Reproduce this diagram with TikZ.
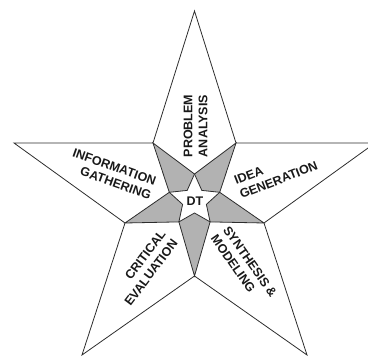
\documentclass[tikz,border=0pt]{standalone}
\usepackage{fontspec}
\newfontfamily\labfont{Liberation Sans}[BoldFont={Liberation Sans Bold}]
\definecolor{kitegray}{RGB}{178,178,178}
\definecolor{linegray}{RGB}{45,45,45}
\definecolor{textgray}{RGB}{25,25,25}
\begin{document}
\begin{tikzpicture}[x=1pt,y=-1pt,
  outline/.style={draw=linegray,line width=0.8pt,line join=miter},
  kite/.style={fill=kitegray,draw=linegray,line width=0.8pt,line join=miter},
  lab/.style={font=\labfont\bfseries\fontsize{12.5}{15}\selectfont,text=textgray,inner sep=0pt}]
\useasboundingbox (0,0) rectangle (368,356);
% big star
\coordinate (T) at (194.5,11);
\coordinate (R) at (375,143);
\coordinate (BR) at (307,355);
\coordinate (BL) at (82,355);
\coordinate (L) at (14,143);
\coordinate (ITL) at (153,143);
\coordinate (ITR) at (236,143);
\coordinate (IR) at (264,223);
\coordinate (IB) at (194.5,276);
\coordinate (IL) at (125,223);
% small star tips
\coordinate (sT) at (194.5,174);
\coordinate (sL) at (169.3,192.3);
\coordinate (sR) at (219.7,192.3);
\coordinate (sBL) at (178.9,221.9);
\coordinate (sBR) at (210.1,221.9);
% small star inner vertices
\coordinate (iTL) at (187.2,190.4);
\coordinate (iTR) at (201.8,190.4);
\coordinate (iL) at (182.6,204.4);
\coordinate (iR) at (206.4,204.4);
\coordinate (iB) at (194.5,213);
% outline of big star
\draw[outline] (T) -- (ITR) -- (R) -- (IR) -- (BR) -- (IB) -- (BL) -- (IL) -- (L) -- (ITL) -- cycle;
% gray kites
\draw[kite] (ITL) -- (sT) -- (iTL) -- (sL) -- cycle;
\draw[kite] (ITR) -- (sR) -- (iTR) -- (sT) -- cycle;
\draw[kite] (IL) -- (sL) -- (iL) -- (sBL) -- cycle;
\draw[kite] (IR) -- (sBR) -- (iR) -- (sR) -- cycle;
\draw[kite] (IB) -- (sBL) -- (iB) -- (sBR) -- cycle;
% labels
\node[lab,rotate=90,align=center] (pa) at (195.5,126) {PROBLEM\\ANALYSIS};
\node[lab,rotate=-19.5,align=right] (ig) at (112,174) {INFORMATION\\GATHERING};
\node[lab,rotate=21.4,align=left] (idg) at (276,173) {IDEA\\GENERATION};
\node[lab,rotate=53,align=right] (ce) at (145,268) {CRITICAL\\EVALUATION};
\node[lab,rotate=-55,align=left] (sm) at (244,266) {SYNTHESIS \&\\MODELING};
\node[lab] (dt) at (195,201.5) {DT};
\end{tikzpicture}
\end{document}
